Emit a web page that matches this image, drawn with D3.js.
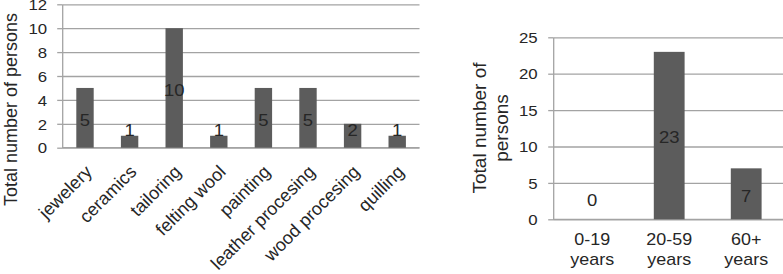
<!DOCTYPE html>
<html>
<head>
<meta charset="utf-8">
<script src="https://cdn.jsdelivr.net/npm/d3@7"></script>
<style>
  html, body { margin: 0; padding: 0; background: #fff; }
  svg { display: block; }
  text { font-family: "Liberation Sans", Arial, sans-serif; fill: #262626; }
</style>
</head>
<body>
<svg id="chart" width="783" height="274"></svg>
<script>
// ---- data ----
const craftCategories = ["jewelery", "ceramics", "tailoring", "felting wool", "painting", "leather procesing", "wood procesing", "quilling"];
const craftValues = [5, 1, 10, 1, 5, 5, 2, 1];
const craftTicks = [0, 2, 4, 6, 8, 10, 12];

const ageCategories = ["0-19", "20-59", "60+"];
const ageSubLabels = ["years", "years", "years"];
const ageValues = [0, 23, 7];
const ageTicks = [0, 5, 10, 15, 20, 25];

const yTitleLeft = "Total number of persons";
const yTitleRight = ["Total number of", "persons"];

// ---- style ----
const barColor = "#5c5c5c";
const gridColor = "#a3a3a3";
const stretch = 1.12; // slight horizontal text stretch seen in the reference
const svg = d3.select("#chart");

function drawChart(opts) {
  const { cats, vals, ticks, x0, x1, xEnd, yBottom, yTop, padIn, padOut, labelClamp, tickFont, valueFont } = opts;
  const g = svg.append("g");
  const y = d3.scaleLinear().domain([0, d3.max(ticks)]).range([yBottom, yTop]);
  const x = d3.scaleBand().domain(cats).range([x0, x1]).paddingInner(padIn).paddingOuter(padOut);

  // gridlines
  g.append("g")
    .attr("transform", `translate(${x0 - 0.5},0)`)
    .call(d3.axisLeft(y).tickValues(ticks).tickSize(-(xEnd - x0 + 0.5)).tickFormat(""))
    .call(s => s.select(".domain").remove())
    .call(s => s.selectAll("line").attr("stroke", gridColor).attr("stroke-width", 1.3));

  // y axis with ticks and labels
  const off = 5 + opts.tickPad;
  const ax = g.append("g")
    .attr("transform", `translate(${x0 - 0.5},0)`)
    .call(d3.axisLeft(y).tickValues(ticks).tickSize(5).tickSizeOuter(0).tickPadding(opts.tickPad));
  ax.select(".domain").attr("stroke", gridColor).attr("stroke-width", 1.3);
  ax.selectAll(".tick line").attr("stroke", gridColor).attr("stroke-width", 1.3);
  ax.selectAll(".tick text").attr("font-size", tickFont).attr("fill", "#262626")
    .attr("font-family", "Liberation Sans, Arial, sans-serif").attr("dy", "0.35em")
    .attr("x", 0).attr("transform", `translate(${-off},0) scale(${stretch},1)`);

  // x axis baseline
  g.append("g")
    .attr("transform", `translate(0,${yBottom})`)
    .call(d3.axisBottom(x).tickSize(0).tickFormat(""))
    .call(s => s.select(".domain").attr("stroke", gridColor).attr("stroke-width", 1.3)
      .attr("d", `M${x0 - 0.5},0H${xEnd}`));

  // bars
  g.selectAll("rect.bar").data(cats).join("rect")
    .attr("class", "bar")
    .attr("x", d => x(d))
    .attr("width", x.bandwidth())
    .attr("y", (d, i) => y(vals[i]))
    .attr("height", (d, i) => y(0) - y(vals[i]))
    .attr("fill", barColor);

  // value labels
  g.selectAll("text.val").data(cats).join("text")
    .attr("class", "val")
    .attr("transform", (d, i) => {
      const cx = x(d) + x.bandwidth() / 2;
      const cy = Math.min((y(vals[i]) + y(0)) / 2 + 2, y(0) - labelClamp) + 5.8;
      return `translate(${cx},${cy}) scale(${stretch},1)`;
    })
    .attr("text-anchor", "middle")
    .attr("font-size", valueFont)
    .text((d, i) => vals[i]);

  return { x, y, g };
}

// ---- left chart ----
const L = drawChart({
  cats: craftCategories, vals: craftValues, ticks: craftTicks,
  x0: 62.7, x1: 419.5, xEnd: 419.5, yBottom: 147.7, yTop: 4.3,
  padIn: 0.61, padOut: 0.305, labelClamp: 18, tickFont: 15, valueFont: 16.5, tickPad: 10
});
L.g.selectAll("text.xlab").data(craftCategories).join("text")
  .attr("class", "xlab")
  .attr("text-anchor", "end")
  .attr("font-size", 18)
  .attr("transform", d => `translate(${L.x(d) + L.x.bandwidth() / 2 + 8},173) rotate(-45)`)
  .text(d => d);
svg.append("text")
  .attr("transform", "translate(17,109.5) rotate(-90)")
  .attr("text-anchor", "middle")
  .attr("font-size", 18)
  .text(yTitleLeft);

// ---- right chart ----
const R = drawChart({
  cats: ageCategories, vals: ageValues, ticks: ageTicks,
  x0: 553.7, x1: 784.7, xEnd: 783, yBottom: 219.3, yTop: 37.3,
  padIn: 0.6, padOut: 0.3, labelClamp: 19.6, tickFont: 15, valueFont: 16.5, tickPad: 10.5
});
const xl = R.g.selectAll("text.xlab").data(ageCategories).join("text")
  .attr("class", "xlab")
  .attr("text-anchor", "middle")
  .attr("font-size", 16)
  .attr("transform", d => `translate(${R.x(d) + R.x.bandwidth() / 2},0) scale(${stretch},1)`);
xl.append("tspan")
  .attr("x", 0).attr("y", 245.5)
  .text(d => d);
xl.append("tspan")
  .attr("x", 0).attr("y", 265.5)
  .text((d, i) => ageSubLabels[i]);
svg.selectAll("text.rtitle").data(yTitleRight).join("text")
  .attr("class", "rtitle")
  .attr("transform", (d, i) => `translate(${486 + i * 22},128) rotate(-90)`)
  .attr("text-anchor", "middle")
  .attr("font-size", 19)
  .text(d => d);
</script>
</body>
</html>
